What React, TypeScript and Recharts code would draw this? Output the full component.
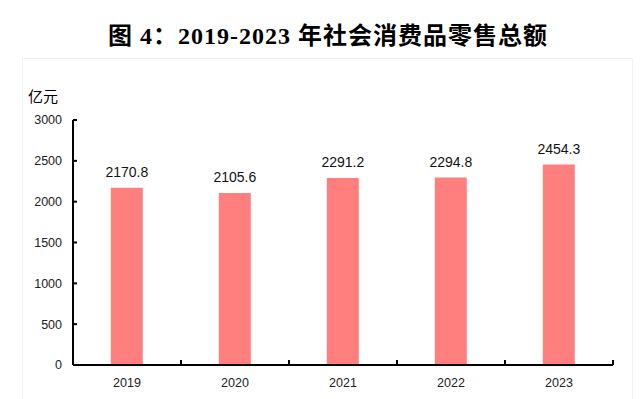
import React from 'react'
import { Bar, BarChart, LabelList, XAxis, YAxis } from 'recharts'

const years = ['2019', '2020', '2021', '2022', '2023']
const sales = [2170.8, 2105.6, 2291.2, 2294.8, 2454.3]
const yTicks = [0, 500, 1000, 1500, 2000, 2500, 3000]

const data = years.map((year, i) => ({ year, sales: sales[i] }))

const numFont = "'Liberation Sans', 'Noto Sans CJK SC', sans-serif"

const YearTick = (props: any) => {
  const { x, y, payload, width, visibleTicksCount } = props
  const bw = width / visibleTicksCount
  return (
    <g>
      <line x1={x + bw / 2} y1={y} x2={x + bw / 2} y2={y - 5} stroke="#000" strokeWidth={2} />
      <text x={x} y={y + 22} textAnchor="middle" fontSize={12.5} fill="#222" fontFamily={numFont}>
        {payload.value}
      </text>
    </g>
  )
}

export default function App() {
  return (
    <div style={{ position: 'absolute', left: 0, top: 0, width: 640, height: 399, background: '#fff' }}>
      <div
        style={{
          position: 'absolute',
          left: 0,
          top: 16,
          width: 656,
          textAlign: 'center',
          fontFamily: "'Liberation Serif', 'Noto Sans CJK SC', serif",
          fontWeight: 'bold',
          fontSize: 24,
          letterSpacing: 1,
          color: '#000',
        }}
      >
        图 4：2019-2023 年社会消费品零售总额
      </div>
      <div
        style={{
          position: 'absolute',
          left: 22,
          top: 58,
          width: 609,
          height: 345,
          border: '1px solid #f2f2f2',
        }}
      />
      <div
        style={{
          position: 'absolute',
          left: 28,
          top: 85,
          fontSize: 15,
          fontFamily: "'Noto Sans CJK SC', sans-serif",
          color: '#000',
        }}
      >
        亿元
      </div>
      <div style={{ position: 'absolute', left: 0, top: 0 }}>
        <BarChart
          width={640}
          height={399}
          data={data}
          margin={{ top: 120, right: 27, left: 13, bottom: 4 }}
          barCategoryGap="35%"
        >
          <XAxis
            dataKey="year"
            height={30}
            tickLine={false}
            tickSize={0}
            tickMargin={0}
            tick={<YearTick />}
            axisLine={{ stroke: '#000', strokeWidth: 2 }}
          />
          <YAxis
            width={60}
            domain={[0, 3000]}
            ticks={yTicks}
            tickSize={-4}
            tickMargin={15}
            interval={0}
            tick={{ fontSize: 12.5, fill: '#222', fontFamily: numFont }}
            tickLine={{ stroke: '#000', strokeWidth: 2 }}
            axisLine={{ stroke: '#000', strokeWidth: 2 }}
          />
          <Bar dataKey="sales" fill="#FF7F7F" isAnimationActive={false}>
            <LabelList
              dataKey="sales"
              position="top"
              offset={11}
              fontSize={14}
              fill="#111"
              fontFamily={numFont}
              formatter={(v: any) => Number(v).toFixed(1)}
            />
          </Bar>
        </BarChart>
      </div>
    </div>
  )
}
